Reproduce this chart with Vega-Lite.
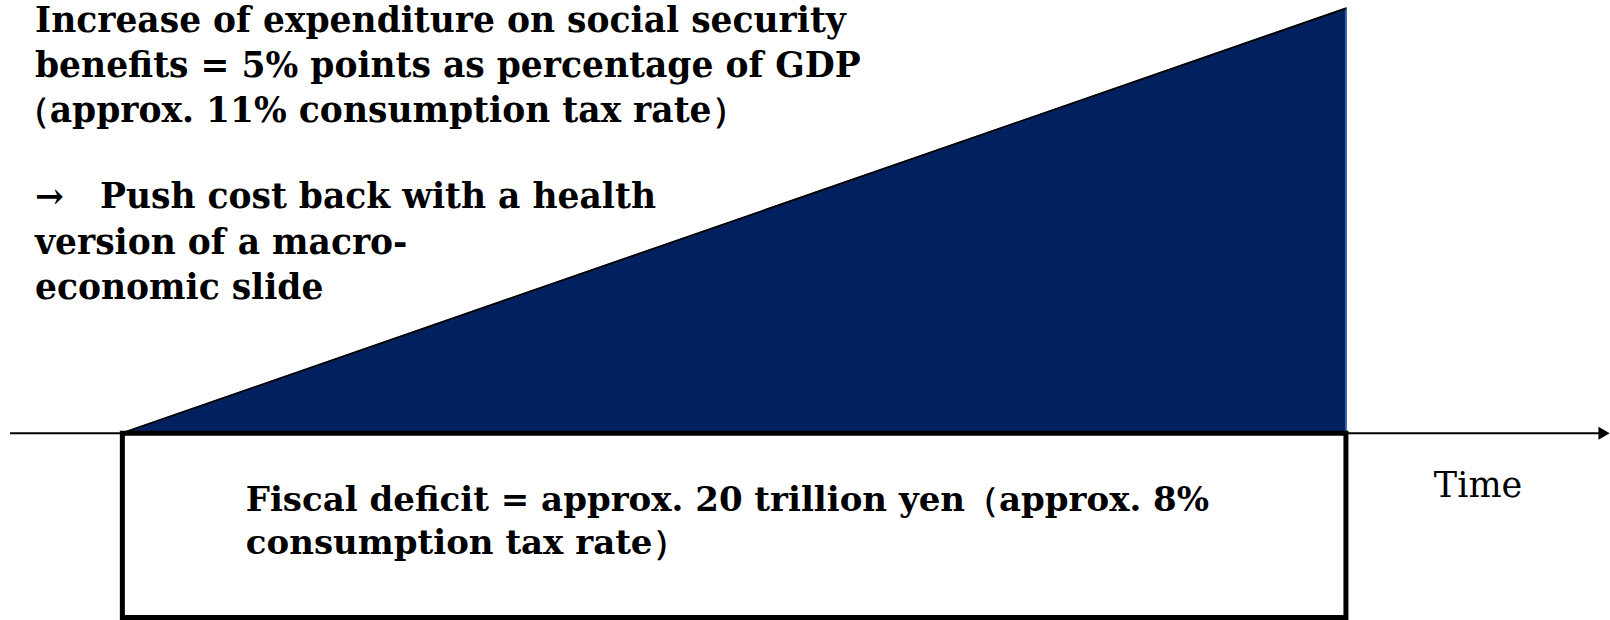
{
  "$schema": "https://vega.github.io/schema/vega-lite/v6.json",
  "width": 1610,
  "height": 620,
  "autosize": {"type": "fit", "contains": "padding"},
  "padding": 0,
  "background": "white",
  "config": {"view": {"stroke": null}},
  "datasets": {
    "benefit": [{"t": 0, "v": 0}, {"t": 10, "v": 5}],
    "deficit": [{"t0": 0, "t1": 10, "v0": -2.17, "v1": 0}],
    "axisline": [{"t0": -0.918, "t1": 12.07, "v": 0}],
    "arrow": [{"t": 12.11, "v": 0}],
    "topnote": [
      {"t": -0.714, "v": 4.84, "label": "Increase of expenditure on social security"},
      {"t": -0.714, "v": 4.31, "label": "benefits = 5% points as percentage of GDP"},
      {"t": -0.88, "v": 3.78, "label": "（approx. 11% consumption tax rate）"},
      {"t": -0.714, "v": 2.769, "label": "→\u00a0\u00a0\u00a0Push cost back with a health"},
      {"t": -0.714, "v": 2.227, "label": "version of a macro-"},
      {"t": -0.714, "v": 1.697, "label": "economic slide"}
    ],
    "boxnote": [
      {"t": 1.009, "v": -0.798, "label": "Fiscal deficit = approx. 20 trillion yen（approx. 8%"},
      {"t": 1.009, "v": -1.305, "label": "consumption tax rate）"}
    ],
    "axislabel": [{"t": 11.08, "v": -0.622, "label": "Time"}]
  },
  "encoding": {
    "x": {"type": "quantitative", "scale": {"domain": [-1, 12.15], "nice": false, "zero": false}, "axis": null},
    "y": {"type": "quantitative", "scale": {"domain": [-2.2, 5.1], "nice": false, "zero": false}, "axis": null}
  },
  "layer": [
    {
      "data": {"name": "benefit"},
      "mark": {"type": "area", "color": "#002060", "stroke": "#3A62A8", "strokeWidth": 2},
      "encoding": {"x": {"field": "t"}, "y": {"field": "v"}}
    },
    {
      "data": {"name": "benefit"},
      "mark": {"type": "line", "color": "#000000", "strokeWidth": 2},
      "encoding": {"x": {"field": "t"}, "y": {"field": "v"}}
    },
    {
      "data": {"name": "axisline"},
      "mark": {"type": "rule", "color": "#000000", "strokeWidth": 2},
      "encoding": {"x": {"field": "t0"}, "x2": {"field": "t1"}, "y": {"field": "v"}}
    },
    {
      "data": {"name": "arrow"},
      "mark": {"type": "point", "shape": "triangle-right", "filled": true, "color": "#000000", "size": 170, "opacity": 1},
      "encoding": {"x": {"field": "t"}, "y": {"field": "v"}}
    },
    {
      "data": {"name": "deficit"},
      "mark": {"type": "rect", "fill": "white", "stroke": "#000000", "strokeWidth": 5},
      "encoding": {"x": {"field": "t0"}, "x2": {"field": "t1"}, "y": {"field": "v0"}, "y2": {"field": "v1"}}
    },
    {
      "data": {"name": "topnote"},
      "mark": {"type": "text", "align": "left", "baseline": "middle", "font": "DejaVu Serif", "fontWeight": "bold", "fontSize": 34.5, "color": "#000000"},
      "encoding": {"x": {"field": "t"}, "y": {"field": "v"}, "text": {"field": "label"}}
    },
    {
      "data": {"name": "boxnote"},
      "mark": {"type": "text", "align": "left", "baseline": "middle", "font": "DejaVu Serif", "fontWeight": "bold", "fontSize": 34, "color": "#000000"},
      "encoding": {"x": {"field": "t"}, "y": {"field": "v"}, "text": {"field": "label"}}
    },
    {
      "data": {"name": "axislabel"},
      "mark": {"type": "text", "align": "center", "baseline": "middle", "font": "DejaVu Serif", "fontSize": 35, "color": "#000000"},
      "encoding": {"x": {"field": "t"}, "y": {"field": "v"}, "text": {"field": "label"}}
    }
  ]
}
